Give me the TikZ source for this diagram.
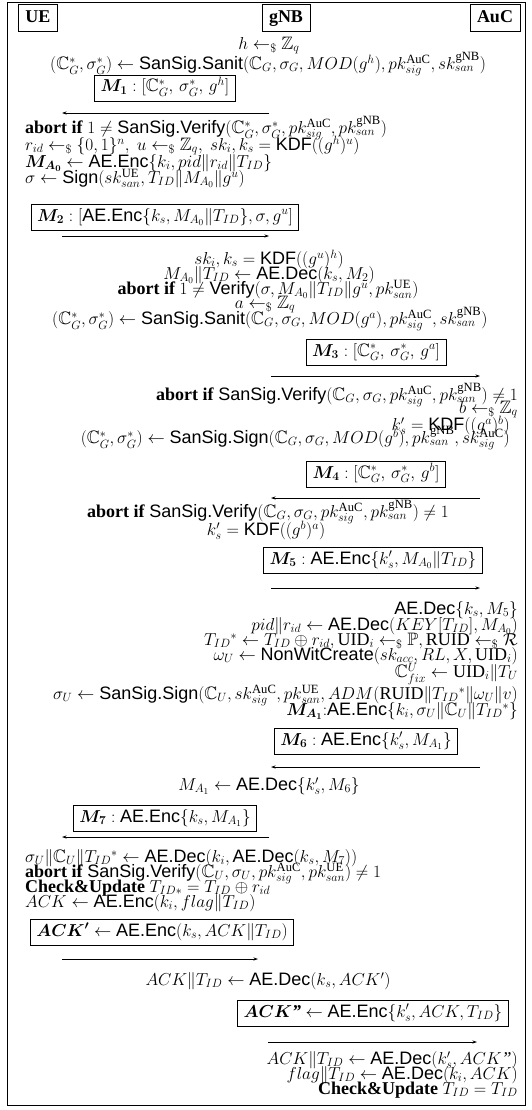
\documentclass[tikz,border=0pt]{standalone}
\usepackage{amsmath,amssymb}
\usepackage{bm}
\usepackage{fontspec}
\setmainfont{Liberation Serif}
\setsansfont{Liberation Sans}
\usetikzlibrary{arrows.meta}
\newcommand{\sfn}[1]{\textsf{#1}}
\newcommand{\samp}{\mathrel{\leftarrow_{\$}}}
\newcommand{\Cb}{\mathbb{C}}
\begin{document}
\begin{tikzpicture}[x=1pt,y=-1pt,
  every node/.style={font=\fontsize{18}{16}\selectfont},
  lt/.style={anchor=mid west,inner sep=0pt},
  rt/.style={anchor=mid east,inner sep=0pt},
  ct/.style={anchor=mid,inner sep=0pt},
  hdr/.style={draw,line width=0.8pt,inner xsep=7pt,text height=12pt,text depth=3pt,inner ysep=6pt,font=\fontsize{18}{16}\selectfont\bfseries},
  msgbox/.style={draw,line width=0.8pt,inner xsep=6pt,text height=13pt,text depth=5pt,inner ysep=4pt},
  msgarrow/.style={line width=0.8pt,-{Stealth[length=4.5pt,width=3pt]}}]
\useasboundingbox (0,0) rectangle (531,1110);
\draw[line width=0.8pt] (7,2) rectangle (525,1105);
% headers
\node[hdr] (ue) at (38,18) {UE};
\node[hdr] (gnb) at (286,18) {gNB};
\node[hdr] (auc) at (495,18) {AuC};
% gNB initial
\node[ct] (h) at (269,47) {$h \samp \mathbb{Z}_q$};
\node[lt] (sanit1) at (50,67) {$(\Cb_G^*, \sigma_G^*) \leftarrow \sfn{SanSig.Sanit}(\Cb_G, \sigma_G, MOD(g^h), pk_{sig}^{\mathrm{AuC}}, sk_{san}^{\mathrm{gNB}})$};
\node[msgbox] (m1) at (165,88) {$\bm{M_1} : [\Cb_G^*,\, \sigma_G^*,\, g^h]$};
\coordinate (m1s) at (269,113);
\coordinate (m1e) at (62,113);
\draw[msgarrow] (m1s) -- (m1e);
% UE
\node[lt] (ab1) at (25,131) {\textbf{abort if} $1 \neq \sfn{SanSig.Verify}(\Cb_G^*, \sigma_G^*, pk_{sig}^{\mathrm{AuC}}, pk_{san}^{\mathrm{gNB}})$};
\node[lt] (rid) at (25,148) {$r_{id} \samp \{0,1\}^n,\ u \samp \mathbb{Z}_q,\ sk_i, k_s = \sfn{KDF}((g^h)^u)$};
\node[lt] (ma0) at (25,165) {$\bm{M_{A_0}} \leftarrow \sfn{AE.Enc}\{k_i, pid\|r_{id}\|T_{ID}\}$};
\node[lt] (sig) at (25,181) {$\sigma \leftarrow \sfn{Sign}(sk_{san}^{\mathrm{UE}}, T_{ID}\|M_{A_0}\|g^u)$};
\node[msgbox] (m2) at (165,217) {$\bm{M_2} : [\sfn{AE.Enc}\{k_s, M_{A_0}\|T_{ID}\}, \sigma, g^u]$};
\coordinate (m2s) at (62,236);
\coordinate (m2e) at (269,236);
\draw[msgarrow] (m2s) -- (m2e);
% gNB
\node[ct] (kdf1) at (269,262) {$sk_i, k_s = \sfn{KDF}((g^u)^h)$};
\node[ct] (dec1) at (269,277) {$M_{A_0}\|T_{ID} \leftarrow \sfn{AE.Dec}(k_s, M_2)$};
\node[ct] (ab2) at (268,292) {\textbf{abort if} $1 \neq \sfn{Verify}(\sigma, M_{A_0}\|T_{ID}\|g^u, pk_{san}^{\mathrm{UE}})$};
\node[ct] (a) at (265,306) {$a \samp \mathbb{Z}_q$};
\node[lt] (sanit2) at (52,322) {$(\Cb_G^*, \sigma_G^*) \leftarrow \sfn{SanSig.Sanit}(\Cb_G, \sigma_G, MOD(g^a), pk_{sig}^{\mathrm{AuC}}, sk_{san}^{\mathrm{gNB}})$};
\node[msgbox] (m3) at (376,352) {$\bm{M_3} : [\Cb_G^*,\, \sigma_G^*,\, g^a]$};
\coordinate (m3s) at (271,376);
\coordinate (m3e) at (480,376);
\draw[msgarrow] (m3s) -- (m3e);
% AuC
\node[rt] (ab3) at (518,398) {\textbf{abort if} $\sfn{SanSig.Verify}(\Cb_G, \sigma_G, pk_{sig}^{\mathrm{AuC}}, pk_{san}^{\mathrm{gNB}}) \neq 1$};
\node[rt] (b) at (518,411) {$b \samp \mathbb{Z}_q$};
\node[rt] (kdf2) at (510,428) {$k_s' = \sfn{KDF}((g^a)^b)$};
\node[rt] (sign1) at (510,441) {$(\Cb_G^*, \sigma_G^*) \leftarrow \sfn{SanSig.Sign}(\Cb_G, \sigma_G, MOD(g^b), pk_{san}^{\mathrm{gNB}}, sk_{sig}^{\mathrm{AuC}})$};
\node[msgbox] (m4) at (376,474) {$\bm{M_4} : [\Cb_G^*,\, \sigma_G^*,\, g^b]$};
\coordinate (m4s) at (480,498);
\coordinate (m4e) at (271,498);
\draw[msgarrow] (m4s) -- (m4e);
% gNB
\node[ct] (ab4) at (268,515) {\textbf{abort if} $\sfn{SanSig.Verify}(\Cb_G, \sigma_G, pk_{sig}^{\mathrm{AuC}}, pk_{san}^{\mathrm{gNB}}) \neq 1$};
\node[ct] (kdf3) at (266,533) {$k_s' = \sfn{KDF}((g^b)^a)$};
\node[msgbox] (m5) at (373,560) {$\bm{M_5} : \sfn{AE.Enc}\{k_s', M_{A_0}\|T_{ID}\}$};
\coordinate (m5s) at (271,588);
\coordinate (m5e) at (480,588);
\draw[msgarrow] (m5s) -- (m5e);
% AuC
\node[rt] (dec2) at (518,612) {$\sfn{AE.Dec}\{k_s, M_5\}$};
\node[rt] (pid) at (518,628) {$pid\|r_{id} \leftarrow \sfn{AE.Dec}(KEY[T_{ID}], M_{A_0})$};
\node[rt] (tid) at (518,643) {$T_{ID}{}^* \leftarrow T_{ID} \oplus r_{id},\mathrm{UID}_i \samp \mathbb{P},\mathrm{RUID} \samp \mathcal{R}$};
\node[rt] (omega) at (518,658) {$\omega_U \leftarrow \sfn{NonWitCreate}(sk_{acc}, RL, X, \mathrm{UID}_i)$};
\node[rt] (cfix) at (518,675) {$\Cb_{fix}^U \leftarrow \mathrm{UID}_i\|T_U$};
\node[rt] (sigu) at (518,697) {$\sigma_U \leftarrow \sfn{SanSig.Sign}(\Cb_U, sk_{sig}^{\mathrm{AuC}}, pk_{san}^{\mathrm{UE}}, ADM(\mathrm{RUID}\|T_{ID}{}^*\|\omega_U\|v)$};
\node[rt] (ma1) at (518,713) {$\bm{M_{A_1}}{:}\sfn{AE.Enc}\{k_i, \sigma_U\|\Cb_U\|T_{ID}{}^*\}$};
\node[msgbox] (m6) at (366,741) {$\bm{M_6} : \sfn{AE.Enc}\{k_s', M_{A_1}\}$};
\coordinate (m6s) at (480,767);
\coordinate (m6e) at (271,767);
\draw[msgarrow] (m6s) -- (m6e);
% gNB
\node[ct] (ma1dec) at (269,788) {$M_{A_1} \leftarrow \sfn{AE.Dec}\{k_s', M_6\}$};
\node[msgbox] (m7) at (165,818) {$\bm{M_7} : \sfn{AE.Enc}\{k_s, M_{A_1}\}$};
\coordinate (m7s) at (269,837);
\coordinate (m7e) at (62,837);
\draw[msgarrow] (m7s) -- (m7e);
% UE
\node[lt] (dec3) at (25,860) {$\sigma_U\|\Cb_U\|T_{ID}{}^* \leftarrow \sfn{AE.Dec}(k_i, \sfn{AE.Dec}(k_s, M_7))$};
\node[lt] (ab5) at (25,875) {\textbf{abort if} $\sfn{SanSig.Verify}(\Cb_U, \sigma_U, pk_{sig}^{\mathrm{AuC}}, pk_{san}^{\mathrm{UE}}) \neq 1$};
\node[lt] (chk1) at (25,890) {\textbf{Check\&Update} $T_{ID*} = T_{ID} \oplus r_{id}$};
\node[lt] (ack1) at (25,905) {$ACK \leftarrow \sfn{AE.Enc}(k_i, flag\|T_{ID})$};
\node[msgbox] (ackp) at (162,932) {$\bm{ACK'} \leftarrow \sfn{AE.Enc}(k_s, ACK\|T_{ID})$};
\coordinate (m8s) at (62,959);
\coordinate (m8e) at (258,959);
\draw[msgarrow] (m8s) -- (m8e);
% gNB
\node[ct] (ackdec) at (268,983) {$ACK\|T_{ID} \leftarrow \sfn{AE.Dec}(k_s, ACK')$};
\node[msgbox] (ackpp) at (373,1013) {$\bm{ACK}$\textbf{\textit{''}} $\leftarrow \sfn{AE.Enc}\{k_s', ACK, T_{ID}\}$};
\coordinate (m9s) at (268,1042);
\coordinate (m9e) at (477,1042);
\draw[msgarrow] (m9s) -- (m9e);
% AuC
\node[rt] (ackdec2) at (518,1062) {$ACK\|T_{ID} \leftarrow \sfn{AE.Dec}(k_s', ACK$\textit{''}$)$};
\node[rt] (flagdec) at (518,1077) {$flag\|T_{ID} \leftarrow \sfn{AE.Dec}(k_i, ACK)$};
\node[rt] (chk2) at (518,1092) {\textbf{Check\&Update} $T_{ID} = T_{ID}$};
\end{tikzpicture}
\end{document}
